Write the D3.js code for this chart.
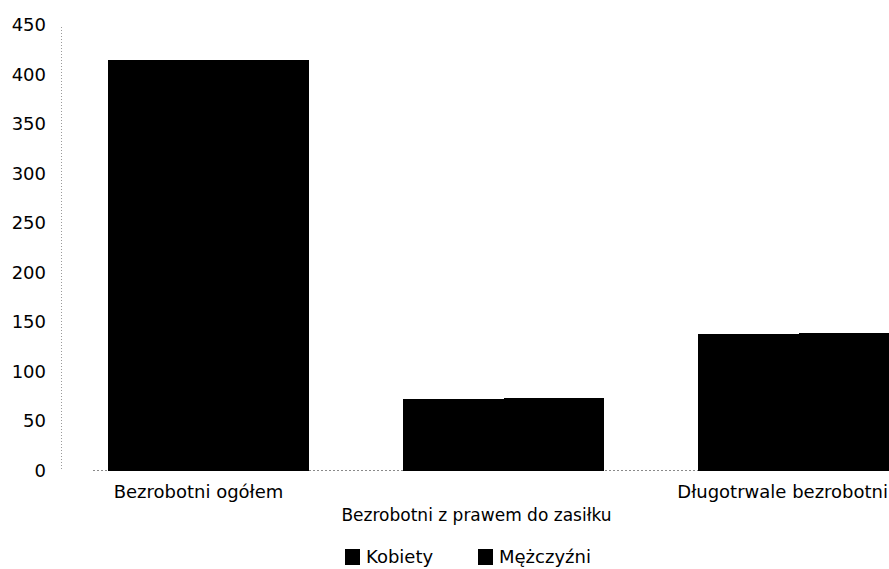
<!DOCTYPE html>
<html>
<head>
<meta charset="utf-8">
<script src="https://cdn.jsdelivr.net/npm/d3@7"></script>
<style>
  html, body { margin: 0; padding: 0; background: #fff; }
  svg { display: block; overflow: hidden; }
  text { font-family: "DejaVu Sans", sans-serif; fill: #000; }
</style>
</head>
<body>
<svg id="chart" width="889" height="569"></svg>
<script>
const categories = ["Bezrobotni ogółem", "Bezrobotni z prawem do zasiłku", "Długotrwale bezrobotni"];
const seriesNames = ["Kobiety", "Mężczyźni"];
const kobiety = [415, 72, 138];
const mezczyzni = [415, 73, 139];
const yTicks = [0, 50, 100, 150, 200, 250, 300, 350, 400, 450];

const seriesValues = [kobiety, mezczyzni];
const seriesColors = ["#000000", "#000000"];

const svg = d3.select("#chart");
const W = 889, H = 569;

const y = d3.scaleLinear().domain([0, 450]).range([470.5, 25]);
const x = d3.scaleBand().domain(categories).range([61, 946])
  .paddingInner(0.32).paddingOuter(0.16);
const xs = d3.scaleBand().domain(seriesNames).range([0, x.bandwidth()]).padding(0);

// Y axis dotted line
svg.append("line")
  .attr("x1", 61.5).attr("x2", 61.5)
  .attr("y1", 27).attr("y2", 470)
  .attr("stroke", "#9a9a9a").attr("stroke-width", 1)
  .attr("stroke-dasharray", "1,2");

// Baseline dotted
svg.append("line")
  .attr("x1", 93).attr("x2", W)
  .attr("y1", 470.5).attr("y2", 470.5)
  .attr("stroke", "#8a8a8a").attr("stroke-width", 1)
  .attr("stroke-dasharray", "2,2");

// Y axis tick labels
const yAxis = d3.axisLeft(y).tickValues(yTicks).tickSize(0).tickPadding(0)
  .tickFormat(d3.format("d"));
const gy = svg.append("g").attr("transform", "translate(46,0)").call(yAxis);
gy.select(".domain").remove();
gy.selectAll("text")
  .style("font-family", "'DejaVu Sans', sans-serif")
  .style("font-size", "18px")
  .attr("fill", "#000");

// Bars
const groups = svg.append("g").selectAll("g")
  .data(categories)
  .join("g")
  .attr("transform", d => `translate(${x(d)},0)`);

groups.selectAll("rect")
  .data((c, i) => seriesNames.map((s, j) => ({ s, v: seriesValues[j][i], j })))
  .join("rect")
  .attr("x", d => xs(d.s))
  .attr("width", xs.bandwidth() + 0.5)
  .attr("y", d => y(d.v))
  .attr("height", d => y(0) - y(d.v))
  .attr("shape-rendering", "crispEdges")
  .attr("fill", d => seriesColors[d.j]);

// Category labels (staggered like the original)
const labelDx = [-10, -27, 0];
const labelY = [498, 521, 498];
const labelSize = [18, 17, 18];
categories.forEach((c, i) => {
  const t = svg.append("text")
    .attr("x", x(c) + x.bandwidth() / 2 + labelDx[i])
    .attr("y", labelY[i])
    .attr("text-anchor", "middle")
    .style("font-size", labelSize[i] + "px")
    .text(c);
  const bb = t.node().getBBox();
  if (bb.x + bb.width > W - 1) {
    t.attr("text-anchor", "end").attr("x", W - 1);
  }
});

// Legend
const legendX = [345, 478];
const legend = svg.append("g");
seriesNames.forEach((s, i) => {
  legend.append("rect")
    .attr("x", legendX[i]).attr("y", 549)
    .attr("width", 15).attr("height", 16)
    .attr("shape-rendering", "crispEdges")
    .attr("fill", seriesColors[i]);
  legend.append("text")
    .attr("x", legendX[i] + 21).attr("y", 563)
    .style("font-size", "18px")
    .text(s);
});
</script>
</body>
</html>
